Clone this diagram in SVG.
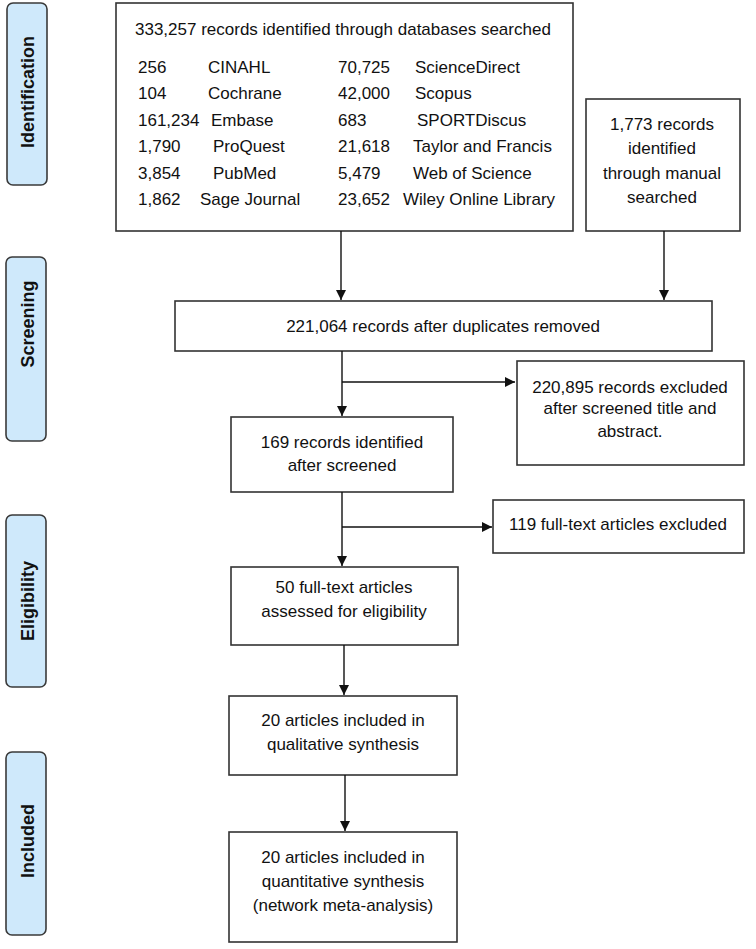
<svg xmlns="http://www.w3.org/2000/svg" width="756" height="949" viewBox="0 0 756 949">
<defs>
<style>
.box{fill:#fff;stroke:#333;stroke-width:1.6}
.tab{fill:#cfe9fb;stroke:#3a3a3a;stroke-width:1.6}
.t{font-family:"Liberation Sans",Arial,sans-serif;font-size:17px;fill:#111}
.c{text-anchor:middle}
.tl{font-family:"Liberation Sans",Arial,sans-serif;font-size:18px;font-weight:bold;fill:#111;text-anchor:middle;dominant-baseline:central}
.ln{stroke:#111;stroke-width:1.4;fill:none}
</style>
<marker id="ah" viewBox="0 0 10 10" refX="10" refY="5" markerWidth="10" markerHeight="10" markerUnits="userSpaceOnUse" orient="auto">
<path d="M0,0 L10,5 L0,10 z" fill="#111"/>
</marker>
</defs>
<rect width="756" height="949" fill="#fff"/>

<g id="tab-identification"><rect class="tab" x="7" y="3" width="40" height="182" rx="6"/><text class="tl" transform="translate(28,92) rotate(-90)">Identification</text></g>
<g id="tab-screening"><rect class="tab" x="6" y="257" width="40" height="184" rx="6"/><text class="tl" transform="translate(28,324) rotate(-90)">Screening</text></g>
<g id="tab-eligibility"><rect class="tab" x="6" y="515" width="40" height="172" rx="6"/><text class="tl" transform="translate(28,601) rotate(-90)">Eligibility</text></g>
<g id="tab-included"><rect class="tab" x="6" y="752" width="40" height="183" rx="6"/><text class="tl" transform="translate(28,841) rotate(-90)">Included</text></g>

<g id="n-databases">
<rect class="box" x="116" y="3" width="457" height="228"/>
<text class="t" x="135" y="35">333,257 records identified through databases searched</text>
<g class="t">
<text x="138" y="73">256</text><text x="208" y="73">CINAHL</text>
<text x="138" y="99">104</text><text x="208" y="99">Cochrane</text>
<text x="138" y="126">161,234</text><text x="211" y="126">Embase</text>
<text x="138" y="152">1,790</text><text x="213" y="152">ProQuest</text>
<text x="138" y="179">3,854</text><text x="213" y="179">PubMed</text>
<text x="138" y="205">1,862</text><text x="200" y="205">Sage Journal</text>
<text x="338" y="73">70,725</text><text x="415" y="73">ScienceDirect</text>
<text x="338" y="99">42,000</text><text x="415" y="99">Scopus</text>
<text x="338" y="126">683</text><text x="417" y="126">SPORTDiscus</text>
<text x="338" y="152">21,618</text><text x="413" y="152">Taylor and Francis</text>
<text x="338" y="179">5,479</text><text x="413" y="179">Web of Science</text>
<text x="338" y="205">23,652</text><text x="403" y="205">Wiley Online Library</text>
</g>
</g>

<g id="n-manual">
<rect class="box" x="586" y="99" width="154" height="132"/>
<text class="t c" x="662" y="130">1,773 records</text>
<text class="t c" x="662" y="154">identified</text>
<text class="t c" x="662" y="179">through manual</text>
<text class="t c" x="662" y="203">searched</text>
</g>

<g id="n-dedup">
<rect class="box" x="175" y="301" width="537" height="50"/>
<text class="t c" x="443" y="332">221,064 records after duplicates removed</text>
</g>

<g id="n-excluded1">
<rect class="box" x="517" y="361" width="227" height="104"/>
<text class="t c" x="630" y="393">220,895 records excluded</text>
<text class="t c" x="630" y="414">after screened title and</text>
<text class="t c" x="630" y="437">abstract.</text>
</g>

<g id="n-screened">
<rect class="box" x="231" y="417" width="222" height="75"/>
<text class="t c" x="342" y="448">169 records identified</text>
<text class="t c" x="342" y="471">after screened</text>
</g>

<g id="n-excluded2">
<rect class="box" x="493" y="500" width="251" height="53"/>
<text class="t c" x="618" y="530">119 full-text articles excluded</text>
</g>

<g id="n-eligible">
<rect class="box" x="231" y="567" width="227" height="78"/>
<text class="t c" x="344" y="593">50 full-text articles</text>
<text class="t c" x="344" y="617">assessed for eligibility</text>
</g>

<g id="n-qualitative">
<rect class="box" x="229" y="696" width="228" height="79"/>
<text class="t c" x="343" y="726">20 articles included in</text>
<text class="t c" x="343" y="750">qualitative synthesis</text>
</g>

<g id="n-quantitative">
<rect class="box" x="229" y="832" width="228" height="110"/>
<text class="t c" x="343" y="863">20 articles included in</text>
<text class="t c" x="343" y="887">quantitative synthesis</text>
<text class="t c" x="343" y="911">(network meta-analysis)</text>
</g>

<g id="connectors">
<line class="ln" x1="341" y1="231" x2="341" y2="300" marker-end="url(#ah)"/>
<line class="ln" x1="664" y1="231" x2="664" y2="300" marker-end="url(#ah)"/>
<line class="ln" x1="342" y1="351" x2="342" y2="416" marker-end="url(#ah)"/>
<line class="ln" x1="342" y1="382" x2="515" y2="382" marker-end="url(#ah)"/>
<line class="ln" x1="342" y1="492" x2="342" y2="566" marker-end="url(#ah)"/>
<line class="ln" x1="342" y1="527" x2="492" y2="527" marker-end="url(#ah)"/>
<line class="ln" x1="344" y1="645" x2="344" y2="695" marker-end="url(#ah)"/>
<line class="ln" x1="345" y1="775" x2="345" y2="831" marker-end="url(#ah)"/>
</g>
</svg>
